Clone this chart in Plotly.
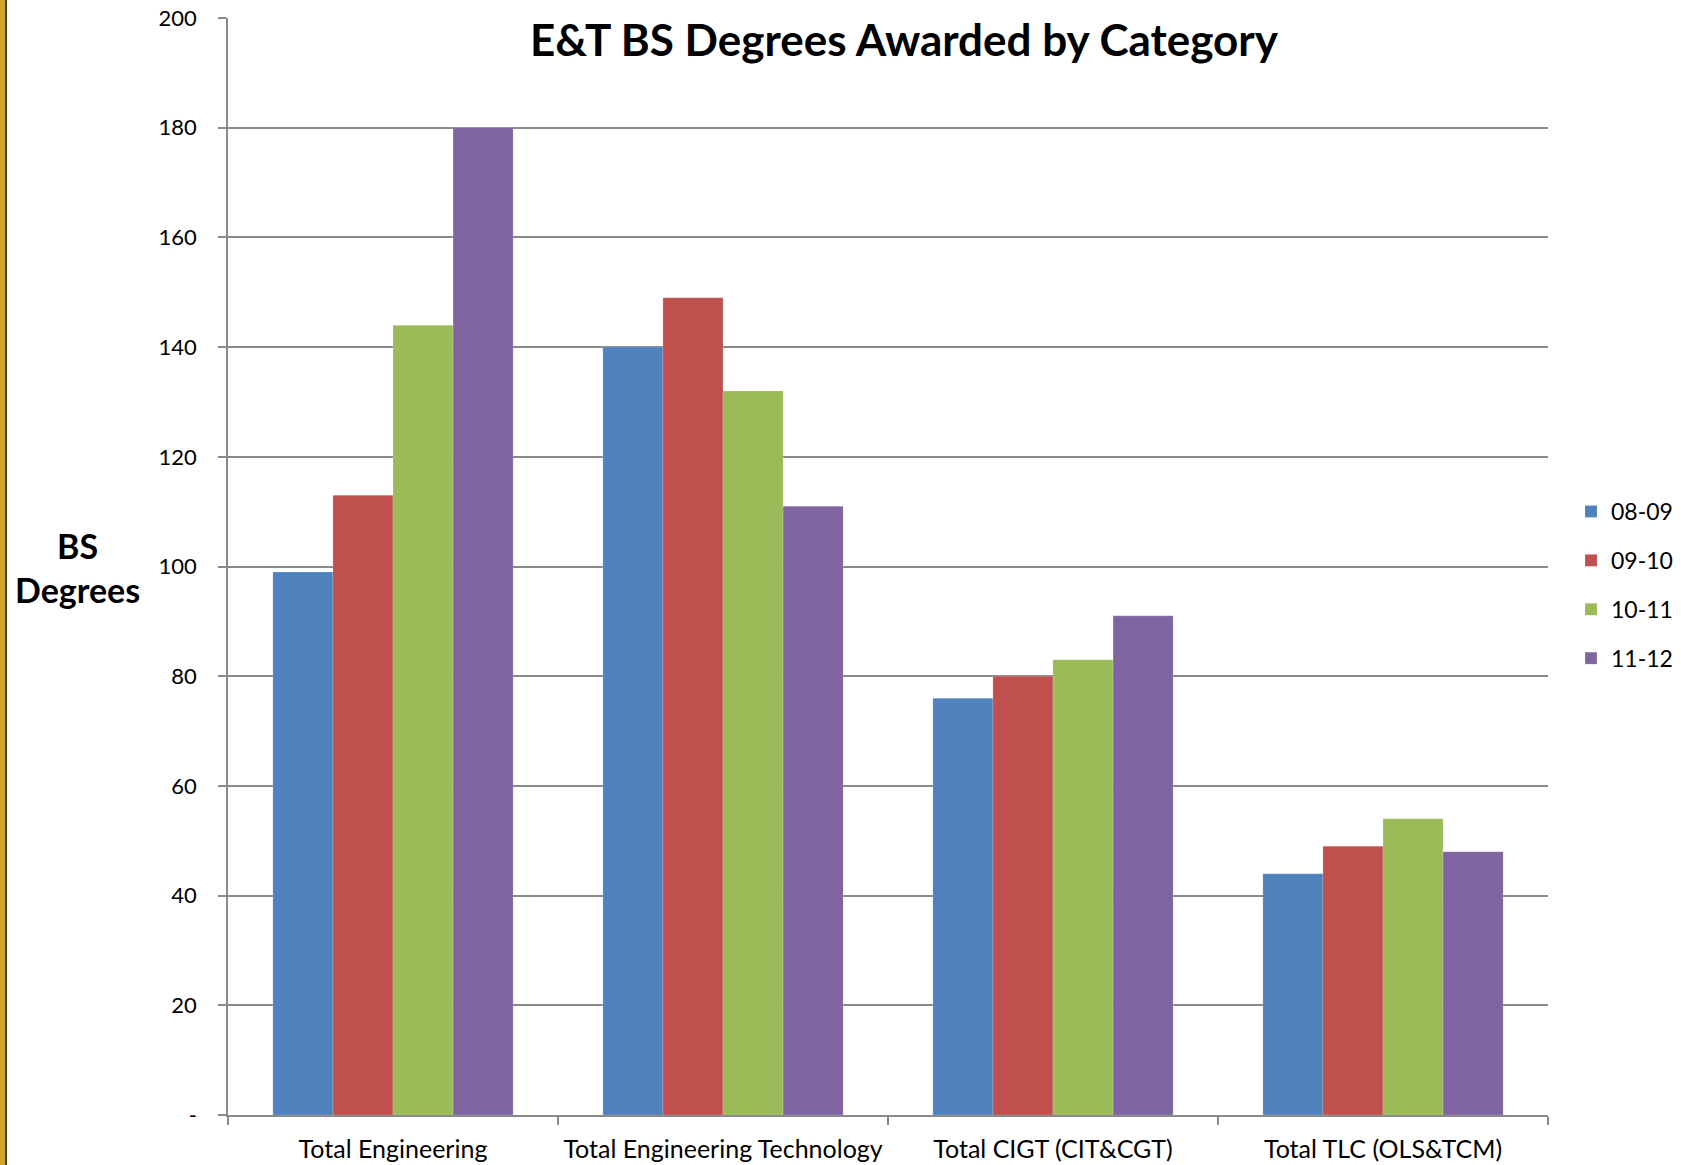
import plotly.graph_objects as go

categories = ["Total Engineering", "Total Engineering Technology", "Total CIGT (CIT&CGT)", "Total TLC (OLS&TCM)"]
series_names = ["08-09", "09-10", "10-11", "11-12"]
v_0809 = [99, 140, 76, 44]
v_0910 = [113, 149, 80, 49]
v_1011 = [144, 132, 83, 54]
v_1112 = [180, 111, 91, 48]
colors = ["#4F81BD", "#C0504D", "#9BBB59", "#8064A2"]
y_tickvals = [0, 20, 40, 60, 80, 100, 120, 140, 160, 180, 200]
y_ticktext = ["-", "20", "40", "60", "80", "100", "120", "140", "160", "180", "200"]

W, H = 1681, 1165
L, R, T, B = 228, 133, 18, 50
pw = W - L - R
ph = H - T - B

FONT = "Lato"
fig = go.Figure()
for name, vals, col in zip(series_names, [v_0809, v_0910, v_1011, v_1112], colors):
    fig.add_trace(go.Bar(
        x=categories, y=vals, name=name, legendgroup=name,
        marker=dict(color=col, line=dict(color="rgba(255,255,255,0.35)", width=0.5)),
    ))

fig.update_layout(
    width=W, height=H,
    margin=dict(l=L, r=R, t=T, b=B, autoexpand=False),
    paper_bgcolor="white", plot_bgcolor="white",
    barmode="group", bargap=0.272, bargroupgap=0,
    font=dict(family=FONT, size=22, color="black"),
    title=dict(text="<b>E&T BS Degrees Awarded by Category</b>",
               x=904 / W, xanchor="center", xref="container",
               y=1 - 41 / H, yanchor="middle", yref="container",
               font=dict(family=FONT, size=44, color="black")),
    legend=dict(x=1571 / W, xanchor="left", xref="container",
                y=1 - 490 / H, yanchor="top", yref="container",
                font=dict(family=FONT, size=23), tracegroupgap=16,
                bgcolor="rgba(0,0,0,0)", itemwidth=30),
    xaxis=dict(type="category", showline=True, linecolor="#8a8a8a", linewidth=1.5,
               ticks="outside", tickson="boundaries", ticklen=8, tickcolor="#8a8a8a",
               tickwidth=1.5, showgrid=False, ticklabelstandoff=11, automargin=False,
               tickfont=dict(family=FONT, size=25)),
    yaxis=dict(range=[0, 200], tickvals=y_tickvals, ticktext=y_ticktext,
               showline=True, linecolor="#8a8a8a", linewidth=1.5,
               ticks="outside", ticklen=8, tickcolor="#8a8a8a", tickwidth=1.5,
               showgrid=True, gridcolor="#8a8a8a", gridwidth=1.5, zeroline=False,
               ticklabelstandoff=17, automargin=False, tickfont=dict(family=FONT, size=22)),
    annotations=[dict(text="<b>BS<br>Degrees</b>", xref="paper", yref="paper",
                      x=(77 - L) / pw, y=(1115 - 568) / ph, xanchor="center", yanchor="middle",
                      showarrow=False, font=dict(family=FONT, size=34, color="black"))],
    shapes=[
        dict(type="rect", xref="paper", yref="paper",
             x0=(0 - L) / pw, x1=(5 - L) / pw, y0=-0.1, y1=1.1,
             fillcolor="#D4A52A", line=dict(width=0), layer="above"),
        dict(type="rect", xref="paper", yref="paper",
             x0=(5 - L) / pw, x1=(7 - L) / pw, y0=-0.1, y1=1.1,
             fillcolor="#4a3a20", line=dict(width=0), layer="above"),
    ],
)

fig.write_html("out.html", config={"displayModeBar": False},
               post_script="document.body.style.margin='0';document.body.style.overflow='hidden';")
